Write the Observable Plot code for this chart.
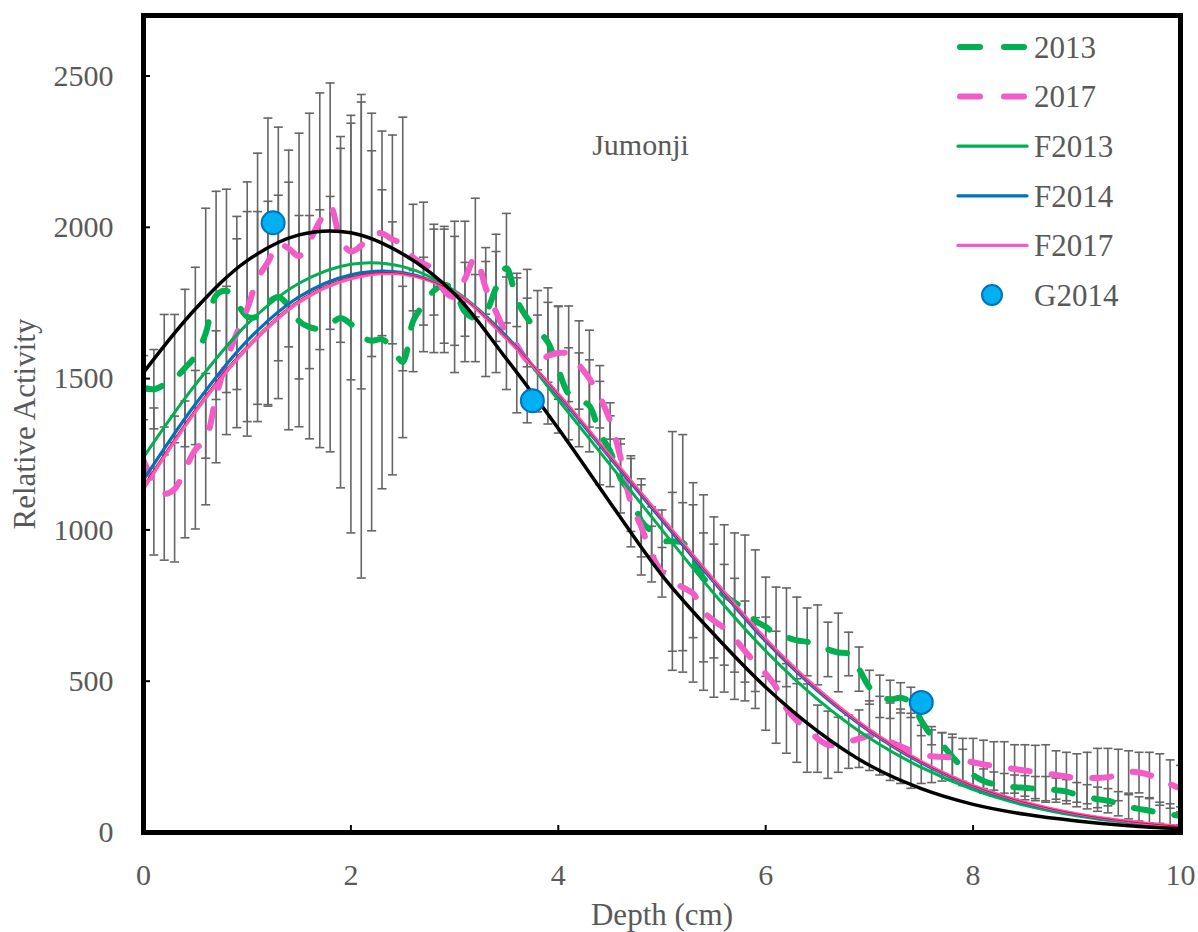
<!DOCTYPE html>
<html><head><meta charset="utf-8">
<script src="https://cdn.jsdelivr.net/npm/d3@7"></script>
<script src="https://cdn.jsdelivr.net/npm/@observablehq/plot@0.6"></script>
<style>
body{margin:0;background:#fff;}
#wrap{position:relative;width:1198px;height:932px;}
#wrap svg.overlay{position:absolute;left:0;top:0;pointer-events:none;}
</style></head><body><div id="wrap"></div>
<script>
// ---- data ----
const depth = d3.range(0, 101).map(i => i / 10); // 0.0 .. 10.0 cm
const s2013 = [1470,1465,1480,1500,1535,1575,1650,1775,1790,1750,
1705,1705,1750,1770,1740,1690,1670,1665,1680,1700,
1680,1640,1625,1630,1600,1555,1690,1745,1790,1810,
1790,1720,1700,1720,1800,1865,1760,1700,1660,1620,
1530,1450,1430,1410,1320,1260,1170,1120,1030,995,
965,962,958,900,840,810,785,760,740,700,
680,655,645,635,630,620,605,595,590,540,
480,450,440,445,430,370,320,290,250,215,
190,170,160,155,150,148,145,145,140,135,
125,118,110,105,95,85,78,72,65,60,
55];
const s2017 = [1230,1160,1120,1135,1200,1265,1300,1440,1560,1650,
1730,1830,1885,1945,1930,1905,1955,2020,2070,1960,
1920,1940,1975,1980,1960,1945,1900,1880,1860,1790,
1770,1830,1900,1800,1720,1650,1610,1560,1550,1575,
1585,1582,1545,1500,1440,1360,1240,1090,1010,920,
860,830,810,790,730,700,675,640,600,560,
525,480,410,370,345,310,290,290,300,310,
320,320,300,285,270,258,252,250,248,240,
232,225,220,215,210,205,200,195,190,185,
180,180,180,183,190,200,198,190,175,160,
145];
const err2013 = [106,131,232,212,260,293,413,344,336,286,
347,347,336,336,409,349,369,393,422,561,
690,799,628,494,418,250,167,156,204,193,
180,164,144,213,177,181,88,161,131,132,
210,152,155,152,171,117,114,125,119,81,
101,363,357,256,276,233,232,230,243,234,
164,156,163,143,112,132,90,130,72,73,
56,70,63,50,50,50,30,40,75,60,
40,40,40,40,40,40,40,40,40,40,
40,40,40,40,40,40,40,40,35,35,
30];
const err2017 = [230,243,220,241,226,262,217,218,245,312,
420,415,476,386,325,406,422,424,407,340,
424,474,402,338,345,419,176,203,150,204,
250,190,196,87,200,186,223,206,160,225,
153,158,146,160,103,60,61,146,159,92,
82,294,280,293,260,253,211,200,165,150,
187,185,148,138,146,111,111,91,88,95,
115,130,128,123,124,96,87,80,66,71,
79,80,80,85,80,85,88,95,80,80,
80,85,98,95,85,70,67,75,85,80,
77];
const fitDepth = d3.range(0, 21).map(i => i / 2); // 0, 0.5, ... 10
const fF2013 = [1240,1480,1680,1815,1878,1870,1790,1640,1430,1215,1000,790,600,440,312,215,142,90,55,32,18];
const fF2014 = [1165,1415,1625,1770,1843,1850,1785,1638,1445,1238,1032,828,632,468,335,230,152,97,60,35,19];
const fF2017 = [1135,1390,1600,1752,1830,1845,1785,1632,1450,1245,1040,835,640,475,340,235,155,100,62,37,20];
const fRed   = [1148,1400,1610,1760,1836,1847,1785,1635,1448,1242,1036,832,636,472,338,233,154,99,61,36,20];
const fBlack = [1520,1730,1890,1975,1982,1912,1780,1565,1335,1090,850,655,480,335,222,145,93,60,38,22,12];
const gDepth = [1.25, 3.75, 7.5];
const gValue = [2015, 1427, 430];
const xTicks = [0, 2, 4, 6, 8, 10];
const yTicks = [0, 500, 1000, 1500, 2000, 2500];
const legendNames = ["2013", "2017", "F2013", "F2014", "F2017", "G2014"];
const chartTitle = "Jumonji";
const xTitle = "Depth (cm)";
const yTitle = "Relative Activity";

// ---- styles ----
const GREEN = "#00B050", PINK = "#F35BC9", BLUE = "#0070C0", GRAY = "#595959", BARGRAY = "#666666";
const FONT = '"Liberation Serif","Times New Roman",serif';

const rows13 = depth.map((d, i) => ({d, v: s2013[i]}));
const rows17 = depth.map((d, i) => ({d, v: s2017[i]}));
const fitRows = arr => fitDepth.map((d, i) => ({d, v: arr[i]}));
const errRows = depth.flatMap((d, i) => [
  {d, lo: s2013[i] - err2013[i], hi: s2013[i] + err2013[i]},
  {d, lo: s2017[i] - err2017[i], hi: s2017[i] + err2017[i]}
]);
const capRows = errRows.flatMap(r => [{d: r.d, v: r.lo}, {d: r.d, v: r.hi}]);
const capSymbol = {draw(ctx) { ctx.moveTo(-4.5, 0); ctx.lineTo(4.5, 0); }};
const gRows = gDepth.map((d, i) => ({d, v: gValue[i]}));

const chart = Plot.plot({
  width: 1198, height: 932,
  marginLeft: 143, marginRight: 18, marginTop: 15, marginBottom: 100,
  x: {domain: [0, 10]},
  y: {domain: [0, 2700]},
  style: {fontFamily: FONT, background: "#fff"},
  marks: [
    Plot.ruleX(errRows, {x: "d", y1: "lo", y2: "hi", stroke: BARGRAY, strokeWidth: 1.6, clip: true}),
    Plot.dot(capRows, {x: "d", y: "v", symbol: capSymbol, r: 3, stroke: BARGRAY, strokeWidth: 1.6, fill: "none", clip: true}),
    Plot.line(rows13, {x: "d", y: "v", stroke: GREEN, strokeWidth: 6, strokeDasharray: "19,22", strokeLinecap: "round", curve: "catmull-rom", clip: true}),
    Plot.line(rows17, {x: "d", y: "v", stroke: PINK, strokeWidth: 6, strokeDasharray: "19,22", strokeLinecap: "round", curve: "catmull-rom", clip: true}),
    Plot.line(fitRows(fF2013), {x: "d", y: "v", stroke: GREEN, strokeWidth: 3, curve: "catmull-rom", clip: true}),
    Plot.line(fitRows(fF2014), {x: "d", y: "v", stroke: BLUE, strokeWidth: 3.2, curve: "catmull-rom", clip: true}),
    Plot.line(fitRows(fF2017), {x: "d", y: "v", stroke: PINK, strokeWidth: 3.2, curve: "catmull-rom", clip: true}),
    Plot.line(fitRows(fRed), {x: "d", y: "v", stroke: "#FF0000", strokeWidth: 1, curve: "catmull-rom", clip: true}),
    Plot.line(fitRows(fBlack), {x: "d", y: "v", stroke: "#000", strokeWidth: 3.5, curve: "catmull-rom", clip: true}),
    Plot.dot(gRows, {x: "d", y: "v", r: 11.5, fill: "#00B0F0", stroke: BLUE, strokeWidth: 2}),
    Plot.text([chartTitle], {text: d => d, frameAnchor: "top-left", dx: 497, dy: 130, textAnchor: "middle", lineAnchor: "middle", fontSize: 30, fill: GRAY}),
    Plot.frame({stroke: "#000", strokeWidth: 5}),
    Plot.tickX(xTicks, {x: d => d, insetTop: 810, stroke: "#000", strokeWidth: 2}),
    Plot.tickY(yTicks, {y: d => d, insetRight: 1030, stroke: "#000", strokeWidth: 2}),
    Plot.axisX(xTicks, {tickSize: 0, tickPadding: 31, fontSize: 30, fill: GRAY, label: null, tickFormat: d3.format("d")}),
    Plot.axisY(yTicks, {tickSize: 0, tickPadding: 30, fontSize: 30, fill: GRAY, label: null, tickFormat: d3.format("d")}),
    Plot.text([xTitle], {text: d => d, frameAnchor: "bottom", dy: 83, textAnchor: "middle", lineAnchor: "middle", fontSize: 31, fill: GRAY}),
    Plot.text([yTitle], {text: d => d, frameAnchor: "left", dx: -118, rotate: -90, textAnchor: "middle", lineAnchor: "middle", fontSize: 31, fill: GRAY})
  ]
});
const wrap = document.getElementById("wrap");
wrap.appendChild(chart);

// ---- legend (overlay) ----
const styles = [
  {type: "dash", color: GREEN},
  {type: "dash", color: PINK},
  {type: "line", color: GREEN},
  {type: "line", color: BLUE},
  {type: "line", color: PINK},
  {type: "dot"}
];
const svg = d3.select(wrap).append("svg").attr("class", "overlay")
  .attr("width", 1198).attr("height", 932);
const g = svg.append("g").attr("font-family", FONT);
legendNames.forEach((name, i) => {
  const y = 47 + i * 49.6;
  const s = styles[i];
  if (s.type === "dash") {
    g.append("line").attr("x1", 960).attr("x2", 1026).attr("y1", y).attr("y2", y)
      .attr("stroke", s.color).attr("stroke-width", 6).attr("stroke-linecap", "round")
      .attr("stroke-dasharray", "20,24");
  } else if (s.type === "line") {
    g.append("line").attr("x1", 958).attr("x2", 1027).attr("y1", y).attr("y2", y)
      .attr("stroke", s.color).attr("stroke-width", 3.2).attr("stroke-linecap", "round");
  } else {
    g.append("circle").attr("cx", 992).attr("cy", y).attr("r", 10)
      .attr("fill", "#00B0F0").attr("stroke", BLUE).attr("stroke-width", 2);
  }
  g.append("text").attr("x", 1034).attr("y", y).attr("dy", "0.35em")
    .attr("font-size", 31).attr("fill", GRAY).text(name);
});
</script></body></html>
